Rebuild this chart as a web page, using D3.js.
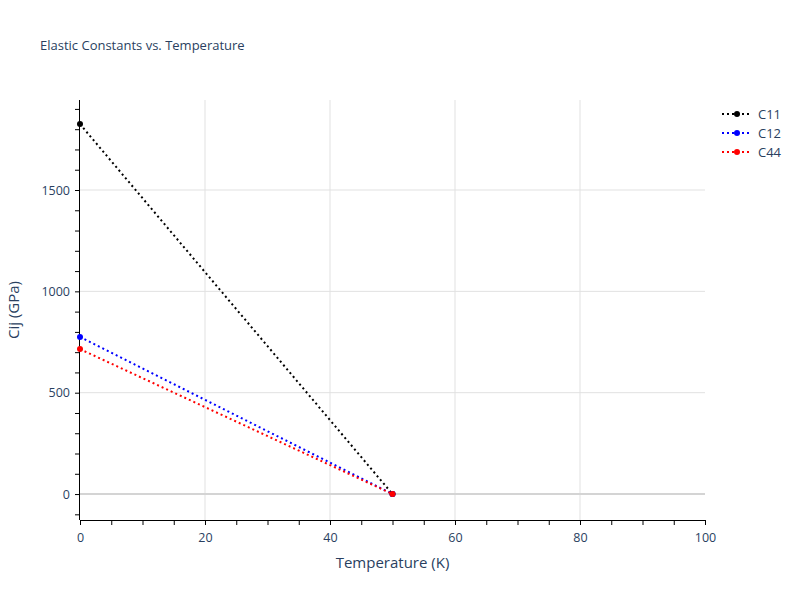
<!DOCTYPE html>
<html><head><meta charset="utf-8">
<script src="https://cdn.jsdelivr.net/npm/d3@7"></script>
<style>body{margin:0;background:#fff;} text{font-family:"Open Sans",sans-serif;}</style>
</head><body><svg id="chart" width="800" height="600"></svg>
<script>
const temperatures = [0, 50];
const seriesNames = ["C11", "C12", "C44"];
const c11 = [1825, 0];
const c12 = [775, 0];
const c44 = [715, 0];
const seriesColors = ["#000000", "#0000ff", "#ff0000"];
const xTicks = [0, 20, 40, 60, 80, 100];
const yTicks = [0, 500, 1000, 1500];

const svg = d3.select("#chart");
const m = {l: 80, r: 95, t: 100, b: 80};
const W = 800, H = 600;
const x = d3.scaleLinear().domain([0, 100]).range([m.l, W - m.r]);
const y = d3.scaleLinear().domain([-128, 1944]).range([H - m.b, m.t]);
const txt = "#2a3f5f";

// grid
svg.append("g").selectAll("line").data(xTicks.filter(d => d > 0 && d < 100)).join("line")
  .attr("x1", d => x(d)).attr("x2", d => x(d)).attr("y1", m.t).attr("y2", H - m.b)
  .attr("stroke", "#e1e1e1").attr("stroke-width", 1);
svg.append("g").selectAll("line").data(yTicks).join("line")
  .attr("x1", m.l).attr("x2", W - m.r).attr("y1", d => y(d)).attr("y2", d => y(d))
  .attr("stroke", d => d === 0 ? "#d4d4d4" : "#e1e1e1").attr("stroke-width", d => d === 0 ? 2 : 1);

// axes
const xAxis = d3.axisBottom(x).tickValues(d3.range(0, 101, 5)).tickSize(5)
  .tickFormat(d => xTicks.includes(d) ? d : "");
const gx = svg.append("g").attr("transform", `translate(0,${H - m.b})`).call(xAxis);
gx.select(".domain").attr("stroke", "#000").attr("stroke-width", 1).attr("d", `M${m.l},0.5H${W - m.r}`);
gx.selectAll(".tick line").attr("stroke", "#000");
gx.selectAll(".tick text").attr("fill", txt).attr("font-size", 12.5).attr("dy", "1.1em").attr("font-family", "Open Sans");

const yAxis = d3.axisLeft(y).tickValues(d3.range(-100, 1901, 100)).tickSize(5)
  .tickFormat(d => yTicks.includes(d) ? d : "");
const gy = svg.append("g").attr("transform", `translate(${m.l},0)`).call(yAxis);
gy.select(".domain").attr("stroke", "#000").attr("stroke-width", 1).attr("d", `M-0.5,${m.t}V${H - m.b}`);
gy.selectAll(".tick line").attr("stroke", "#000");
gy.selectAll(".tick text").attr("fill", txt).attr("font-size", 12.5).attr("x", -10).attr("font-family", "Open Sans");

// series
const allSeries = [c11, c12, c44];
const line = d3.line().x((d, i) => x(temperatures[i])).y(d => y(d));
allSeries.forEach((vals, k) => {
  svg.append("path").datum(vals).attr("d", line).attr("fill", "none")
    .attr("stroke", seriesColors[k]).attr("stroke-width", 2).attr("stroke-dasharray", "2,3");
  svg.append("g").selectAll("circle").data(vals).join("circle")
    .attr("cx", (d, i) => x(temperatures[i])).attr("cy", d => y(d)).attr("r", 3)
    .attr("fill", seriesColors[k]);
});

// legend
seriesNames.forEach((n, k) => {
  const ly = 114 + k * 19;
  svg.append("line").attr("x1", 722).attr("x2", 752).attr("y1", ly).attr("y2", ly)
    .attr("stroke", seriesColors[k]).attr("stroke-width", 2).attr("stroke-dasharray", "2,3");
  svg.append("circle").attr("cx", 737).attr("cy", ly).attr("r", 3).attr("fill", seriesColors[k]);
  svg.append("text").attr("x", 758).attr("y", ly).attr("dy", "0.35em").attr("font-size", 13)
    .attr("fill", txt).text(n);
});

// titles
svg.append("text").attr("x", 40).attr("y", 50).attr("font-size", 13).attr("fill", txt)
  .text("Elastic Constants vs. Temperature");
svg.append("text").attr("x", (m.l + W - m.r) / 2).attr("y", 568).attr("text-anchor", "middle")
  .attr("font-size", 15).attr("fill", txt).text("Temperature (K)");
svg.append("text").attr("transform", `translate(19,${(m.t + H - m.b) / 2}) rotate(-90)`)
  .attr("text-anchor", "middle").attr("font-size", 15).attr("fill", txt).text("Cij (GPa)");
</script></body></html>
